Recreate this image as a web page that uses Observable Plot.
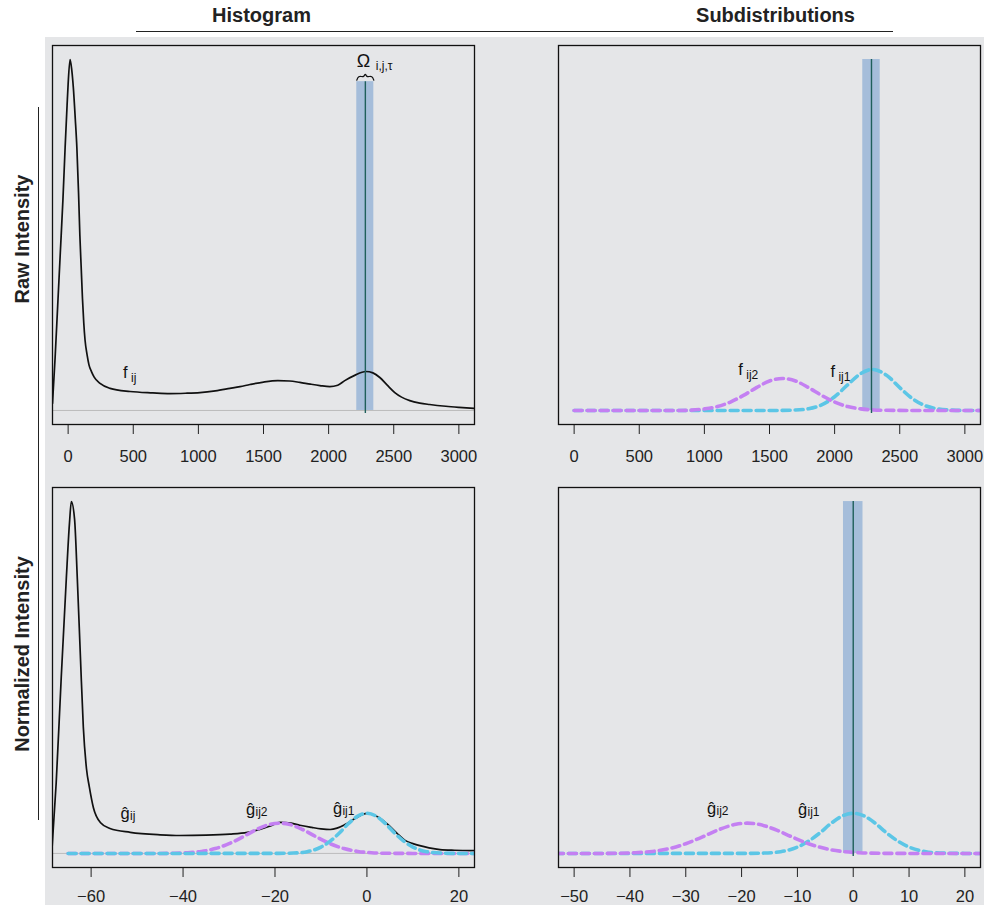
<!DOCTYPE html>
<html><head><meta charset="utf-8">
<script src="https://cdn.jsdelivr.net/npm/d3@7"></script>
<script src="https://cdn.jsdelivr.net/npm/@observablehq/plot@0.6"></script>
<style>
body{margin:0;background:#fff;}
#root{position:relative;width:984px;height:905px;overflow:hidden;font-family:"Liberation Sans",Arial,sans-serif;}
#bg{position:absolute;left:45px;top:37px;width:939px;height:868px;background:#e5e6e8;}
.p{position:absolute;}
.title{position:absolute;font-weight:bold;font-size:20px;line-height:20px;transform:translateX(-50%);white-space:nowrap;color:#222;}
.rot{position:absolute;font-weight:bold;font-size:20px;line-height:20px;transform:translate(-50%,-50%) rotate(-90deg);white-space:nowrap;color:#222;}
.hline{position:absolute;height:0;border-top:1.5px solid #222;}
.vline{position:absolute;width:0;border-left:1.5px solid #222;}
</style></head>
<body><div id="root">
<div id="bg"></div>
<div class="title" style="left:261.5px;top:5px">Histogram</div>
<div class="title" style="left:775.5px;top:5px">Subdistributions</div>
<div class="hline" style="left:136px;top:31px;width:757px"></div>
<div class="vline" style="left:38px;top:107px;height:713px"></div>
<div class="rot" style="left:22px;top:239px">Raw Intensity</div>
<div class="rot" style="left:22px;top:654px">Normalized Intensity</div>
</div>
<script>
// ---------- data ----------
const rawTicks = [0, 500, 1000, 1500, 2000, 2500, 3000];
const normTicksLeft = [-60, -40, -20, 0, 20];
const normTicksRight = [-50, -40, -30, -20, -10, 0, 10, 20];

// raw intensity, total density f_ij
const rawX = [-120, -100, -80, -60, -40, -23, -8, 0, 15, 28, 40, 55, 67, 80, 90, 100, 110, 120, 130, 145, 160, 180, 200, 245, 322, 475, 650, 782, 900, 1012, 1130, 1242, 1320, 1396, 1500, 1610, 1700, 1779, 1860, 1933, 2009, 2070, 2124, 2200, 2285, 2340, 2393, 2450, 2508, 2560, 2623, 2700, 2776, 2900, 3000, 3120];
const rawY = [0.02, 0.15, 0.3, 0.45, 0.6, 0.75, 0.87, 0.93, 1.0, 0.97, 0.92, 0.83, 0.75, 0.62, 0.5, 0.41, 0.32, 0.25, 0.2, 0.16, 0.13, 0.11, 0.095, 0.077, 0.063, 0.054, 0.05, 0.048, 0.049, 0.051, 0.056, 0.063, 0.068, 0.074, 0.081, 0.085, 0.084, 0.08, 0.075, 0.071, 0.068, 0.072, 0.085, 0.1, 0.111, 0.107, 0.094, 0.072, 0.051, 0.038, 0.028, 0.021, 0.017, 0.012, 0.009, 0.006];

// raw subdistributions
const rawSub2X = [0, 200, 400, 600, 800, 900, 1000, 1100, 1200, 1300, 1400, 1500, 1600, 1700, 1800, 1900, 2000, 2100, 2200, 2300, 2400, 2600, 2800, 3120];
const rawSub2Y = [0, 0, 0, 0, 0, 0.001, 0.0045, 0.011, 0.024, 0.043, 0.065, 0.084, 0.091, 0.084, 0.065, 0.043, 0.024, 0.011, 0.0045, 0.0015, 0.0005, 0, 0, 0];
const rawSub1X = [0, 500, 1000, 1500, 1700, 1800, 1900, 2000, 2100, 2200, 2290, 2400, 2500, 2600, 2700, 2800, 2900, 3000, 3120];
const rawSub1Y = [0, 0, 0, 0, 0.0012, 0.005, 0.016, 0.039, 0.073, 0.105, 0.117, 0.1, 0.065, 0.033, 0.013, 0.004, 0.001, 0, 0];

// normalized intensity, total density g_ij
const normX = [-68.5, -67.6, -66.5, -65.4, -64.7, -64.3, -63.6, -63.0, -62.3, -61.7, -61.0, -60.4, -59.5, -58, -55.9, -51.5, -45, -40.7, -35, -29.8, -26, -23.3, -21, -18.9, -16.5, -14.6, -12, -10, -8, -6.5, -4.8, -2.5, 0, 2.5, 5, 6.5, 8.3, 10, 11.5, 13.5, 15.9, 19, 23.5];
const normY = [0.015, 0.2, 0.5, 0.78, 0.94, 1.0, 0.95, 0.78, 0.55, 0.36, 0.24, 0.19, 0.13, 0.088, 0.071, 0.06, 0.053, 0.051, 0.052, 0.055, 0.06, 0.068, 0.078, 0.088, 0.086, 0.08, 0.074, 0.07, 0.068, 0.072, 0.082, 0.1, 0.114, 0.103, 0.077, 0.058, 0.037, 0.028, 0.022, 0.016, 0.011, 0.009, 0.008];

// normalized subdistributions
const normSub2X = [-65, -55, -45, -42, -39, -36, -33, -30, -27, -24, -21, -19, -17, -14, -11, -8, -5, -2, 1, 5, 10, 25];
const normSub2Y = [0, 0, 0, 0.0005, 0.002, 0.0057, 0.0137, 0.0276, 0.047, 0.068, 0.083, 0.086, 0.083, 0.068, 0.047, 0.0276, 0.0137, 0.0057, 0.002, 0.0003, 0, 0];
const normSub1X = [-65, -40, -20, -16, -13, -10, -8, -6, -4, -2, 0, 2, 4, 6, 8, 10, 13, 16, 20, 25];
const normSub1Y = [0, 0, 0.0001, 0.001, 0.005, 0.018, 0.035, 0.058, 0.085, 0.106, 0.114, 0.106, 0.085, 0.058, 0.035, 0.018, 0.005, 0.001, 0, 0];

// selected bins (shaded bands) per panel
const bandPanel = ["rawHist", "rawSub", "normSub"];
const bandLo = [2216, 2216, -1.75];
const bandHi = [2347, 2350, 1.75];
const bandCenter = [2282, 2283, 0];
const bandTop = [0.937, 1.0, 1.0];

// annotation labels
const labelPanel = ["rawHist", "rawSub", "rawSub", "normHist", "normHist", "normHist", "normSub", "normSub", "rawHist"];
const labelMain = ["f", "f", "f", "ĝ", "ĝ", "ĝ", "ĝ", "ĝ", "Ω"];
const labelSub = ["ij", "ij2", "ij1", "ij", "ij2", "ij1", "ij2", "ij1", "i,j,τ"];
const labelX = [422, 1260, 1968, -53.6, -26.3, -7.4, -26.2, -9.9, 2216];
const labelY = [0.107, 0.115, 0.110, 0.114, 0.123, 0.128, 0.126, 0.123, 0.994];

// ---------- helpers ----------
const pts = (xs, ys) => xs.map((x, i) => ({x, y: ys[i]}));
const bands = bandPanel.map((p, i) => ({panel: p, lo: bandLo[i], hi: bandHi[i], c: bandCenter[i], top: bandTop[i]}));
const labels = labelPanel.map((p, i) => ({panel: p, main: labelMain[i], sub: labelSub[i], x: labelX[i], y: labelY[i]}));
const subOffset = {"f": [8, 5], "ĝ": [9.5, 2.5], "Ω": [19, 5]};
const fmt = d => d < 0 ? "\u2212" + Math.abs(d) : String(d);

const PURPLE = "#c480f2", CYAN = "#5cc6e6", BAND = "#a5bdda", VLINE = "#1f5f5b", INK = "#111";
const dashed = (data, color) => Plot.line(data, {x: "x", y: "y", stroke: color, strokeWidth: 3.6, strokeDasharray: "8,5", curve: "monotone-x", clip: true});

function panel(name, cfg) {
  const b = bands.filter(d => d.panel === name);
  const l = labels.filter(d => d.panel === name);
  const marks = [];
  if (cfg.baseline) marks.push(Plot.ruleY([0], {stroke: "#bcbcbc", strokeWidth: 1, clip: true}));
  marks.push(Plot.rect(b, {x1: "lo", x2: "hi", y1: 0, y2: "top", fill: BAND}));
  if (cfg.total) marks.push(Plot.line(cfg.total, {x: "x", y: "y", stroke: INK, strokeWidth: 1.7, curve: "monotone-x", clip: true}));
  for (const s of (cfg.dashed || [])) marks.push(dashed(s[0], s[1]));
  marks.push(Plot.ruleX(b, {x: "c", y1: -0.009, y2: "top", stroke: VLINE, strokeWidth: 1.4}));
  if (cfg.brace) {
    const d = b[0], w = d.hi - d.lo, m = (d.lo + d.hi) / 2, yb = d.top + 0.004;
    const br = [[d.lo, yb], [d.lo + 0.12 * w, yb + 0.010], [m - 0.1 * w, yb + 0.011], [m, yb + 0.017], [m + 0.1 * w, yb + 0.011], [d.hi - 0.12 * w, yb + 0.010], [d.hi, yb]].map(([x, y]) => ({x, y}));
    marks.push(Plot.line(br, {x: "x", y: "y", stroke: INK, strokeWidth: 1.2, curve: "catmull-rom"}));
  }
  for (const g of Object.keys(subOffset)) {
    const lg = l.filter(d => d.main === g);
    if (!lg.length) continue;
    marks.push(Plot.text(lg, {x: "x", y: "y", text: "main", textAnchor: "start", fontSize: g === "Ω" ? 18 : 16.5, fill: INK}));
    marks.push(Plot.text(lg, {x: "x", y: "y", text: "sub", textAnchor: "start", fontSize: 12, dx: subOffset[g][0], dy: subOffset[g][1], fill: INK}));
  }
  marks.push(Plot.frame({stroke: INK, strokeWidth: 1.3}));
  return Plot.plot({
    width: 435, height: cfg.height,
    marginLeft: 10, marginRight: 3, marginTop: 10, marginBottom: cfg.mb,
    x: {domain: cfg.domain, ticks: cfg.ticks, tickFormat: fmt, tickSize: 10, tickPadding: cfg.pad, label: null},
    y: {domain: [-0.04, 1.04], axis: null},
    style: {background: "transparent", fontFamily: "'Liberation Sans', Arial, sans-serif", fontSize: "16.5px", color: "#222", overflow: "visible"},
    marks
  });
}

const specs = [
  ["rawHist", 42, 35, {height: 439, mb: 50, pad: 16, domain: [-120, 3120], ticks: rawTicks, baseline: true, total: pts(rawX, rawY), brace: true}],
  ["rawSub", 548, 35, {height: 439, mb: 50, pad: 16, domain: [-120, 3120], ticks: rawTicks, dashed: [[pts(rawSub1X, rawSub1Y), CYAN], [pts(rawSub2X, rawSub2Y), PURPLE]]}],
  ["normHist", 42, 477, {height: 428, mb: 38, pad: 13, domain: [-68.4, 23.4], ticks: normTicksLeft, baseline: true, total: pts(normX, normY), dashed: [[pts(normSub2X, normSub2Y), PURPLE], [pts(normSub1X, normSub1Y), CYAN]]}],
  ["normSub", 548, 477, {height: 428, mb: 38, pad: 13, domain: [-52.8, 22.8], ticks: normTicksRight, dashed: [[pts(normSub1X, normSub1Y), CYAN], [pts(normSub2X, normSub2Y), PURPLE]]}]
];
const root = document.getElementById("root");
for (const [name, left, top, cfg] of specs) {
  const div = document.createElement("div");
  div.className = "p";
  div.style.left = left + "px";
  div.style.top = top + "px";
  div.appendChild(panel(name, cfg));
  root.appendChild(div);
}
</script>
</body></html>
